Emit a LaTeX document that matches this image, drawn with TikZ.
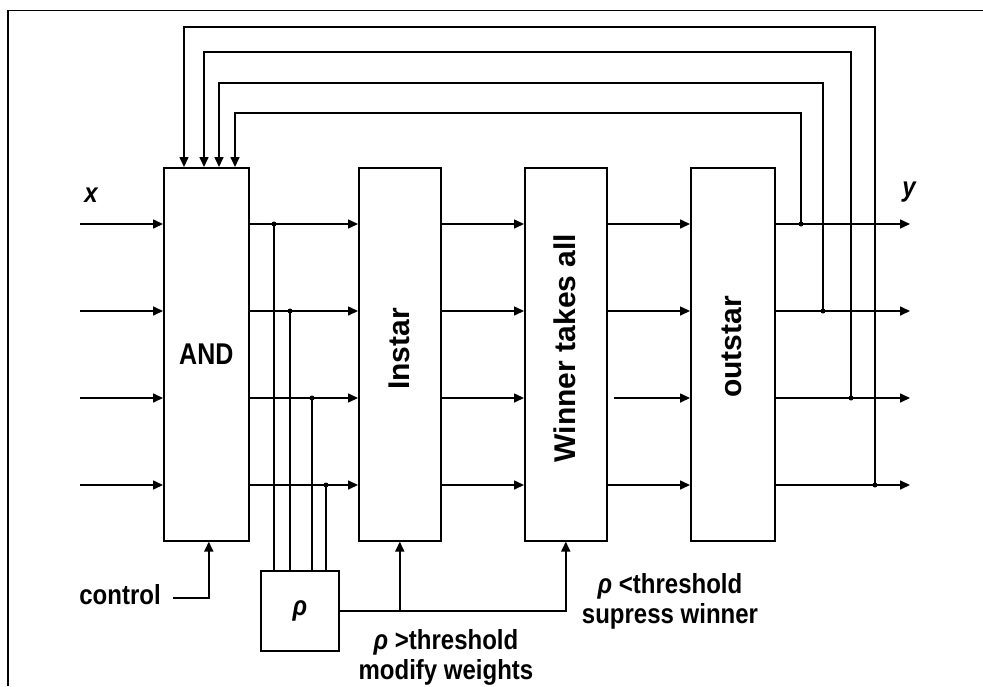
\documentclass[tikz,border=0pt]{standalone}
\usepackage{fontspec}
\usepackage{graphicx}
\setmainfont{Liberation Sans}
\usetikzlibrary{arrows.meta,calc}
\newcommand\tallt[1]{\scalebox{1}[1.15]{#1}}
\begin{document}
\begin{tikzpicture}[x=1pt,y=1pt,
  ln/.style={line width=1.6pt},
  arr/.style={ln,-{Triangle[length=10pt,width=9pt]}},
  blk/.style={draw,line width=1.6pt,minimum width=#1,minimum height=373pt,anchor=north west,inner sep=0pt},
  dot/.style={circle,fill,inner sep=0pt,minimum size=5pt},
  lbl/.style={font=\fontsize{24}{30}\selectfont\bfseries},
  vlbl/.style={font=\fontsize{30}{36}\selectfont\bfseries,rotate=90,inner sep=0pt},
]
\useasboundingbox (0,0) rectangle (983,-686);
\draw[line width=1.6pt] (8,-686) -- (8,-10.5) -- (983,-10.5);

% blocks
\node[blk=85pt,font=\fontsize{25}{30}\selectfont\bfseries] (andb) at (163,-167) {\scalebox{1}[1.2]{AND}};
\node[blk=82pt] (ins) at (358,-167) {};
\node[blk=82pt] (win) at (524,-167) {};
\node[blk=84pt] (outs) at (690,-167) {};
\node[vlbl] (insl) at (399,-349) {Instar};
\node[vlbl] (winl) at (565,-348) {Winner takes all};
\node[vlbl] (outl) at (732,-347) {outstar};
\node[draw,ln,minimum width=78pt,minimum height=80pt,anchor=north west,inner sep=0pt,
      font=\fontsize{24}{30}\selectfont\bfseries\itshape] (rho) at (260,-570) {\tallt{ρ}};

% rows
\foreach \i/\y in {1/224,2/311,3/398,4/485} {
  \coordinate (in\i) at (80,-\y);
  \coordinate (out\i) at (910,-\y);
  \draw[arr] (in\i) -- (andb.west |- in\i);
  \draw[arr] (andb.east |- in\i) -- (ins.west |- in\i);
  \draw[arr] (ins.east |- in\i) -- (win.west |- in\i);
  \draw[arr] (outs.east |- in\i) -- (out\i);
}
\foreach \i in {1,2,4} {
  \draw[arr] (win.east |- in\i) -- (outs.west |- in\i);
}
\coordinate (w3) at (614,-398);
\draw[arr] (w3) -- (outs.west |- w3);

% feedback loops
\foreach \x/\ry/\ty/\ax/\r in {801/224/113/235/1, 823/311/83/219/2, 851/398/52/204/3, 875/485/27/184/4} {
  \node[dot] (fb\r) at (\x,-\ry) {};
  \coordinate (t\r) at (\ax,-\ty);
  \draw[arr] (fb\r.center) |- (t\r) -- (t\r |- andb.north);
}

% rho taps
\foreach \x/\ry/\r in {274/224/1, 290/311/2, 312/398/3, 326/485/4} {
  \node[dot] (pd\r) at (\x,-\ry) {};
  \draw[ln] (rho.north -| pd\r) -- (pd\r.center);
}

% rho outputs
\draw[arr] (rho.east) -| (win.south);
\draw[arr] (ins.south |- rho.east) -- (ins.south);

% control
\node[lbl] (ctl) at (120,-595) {\tallt{control}};
\coordinate (c0) at (173,-598);
\draw[arr] (c0) -| ([xshift=2.5pt]andb.south);

% labels
\node[lbl,font=\fontsize{24}{30}\selectfont\bfseries\itshape] (xl) at (91,-195) {\tallt{x}};
\node[lbl,font=\fontsize{24}{30}\selectfont\bfseries\itshape] (yl) at (909,-192) {\tallt{y}};
\node[lbl,align=center] (lt1) at (670,-601) {\tallt{\textit{ρ} <threshold}\\\tallt{supress winner}};
\node[lbl,align=center] (lt2) at (446,-657) {\tallt{\textit{ρ} >threshold}\\\tallt{modify weights}};
\end{tikzpicture}
\end{document}
